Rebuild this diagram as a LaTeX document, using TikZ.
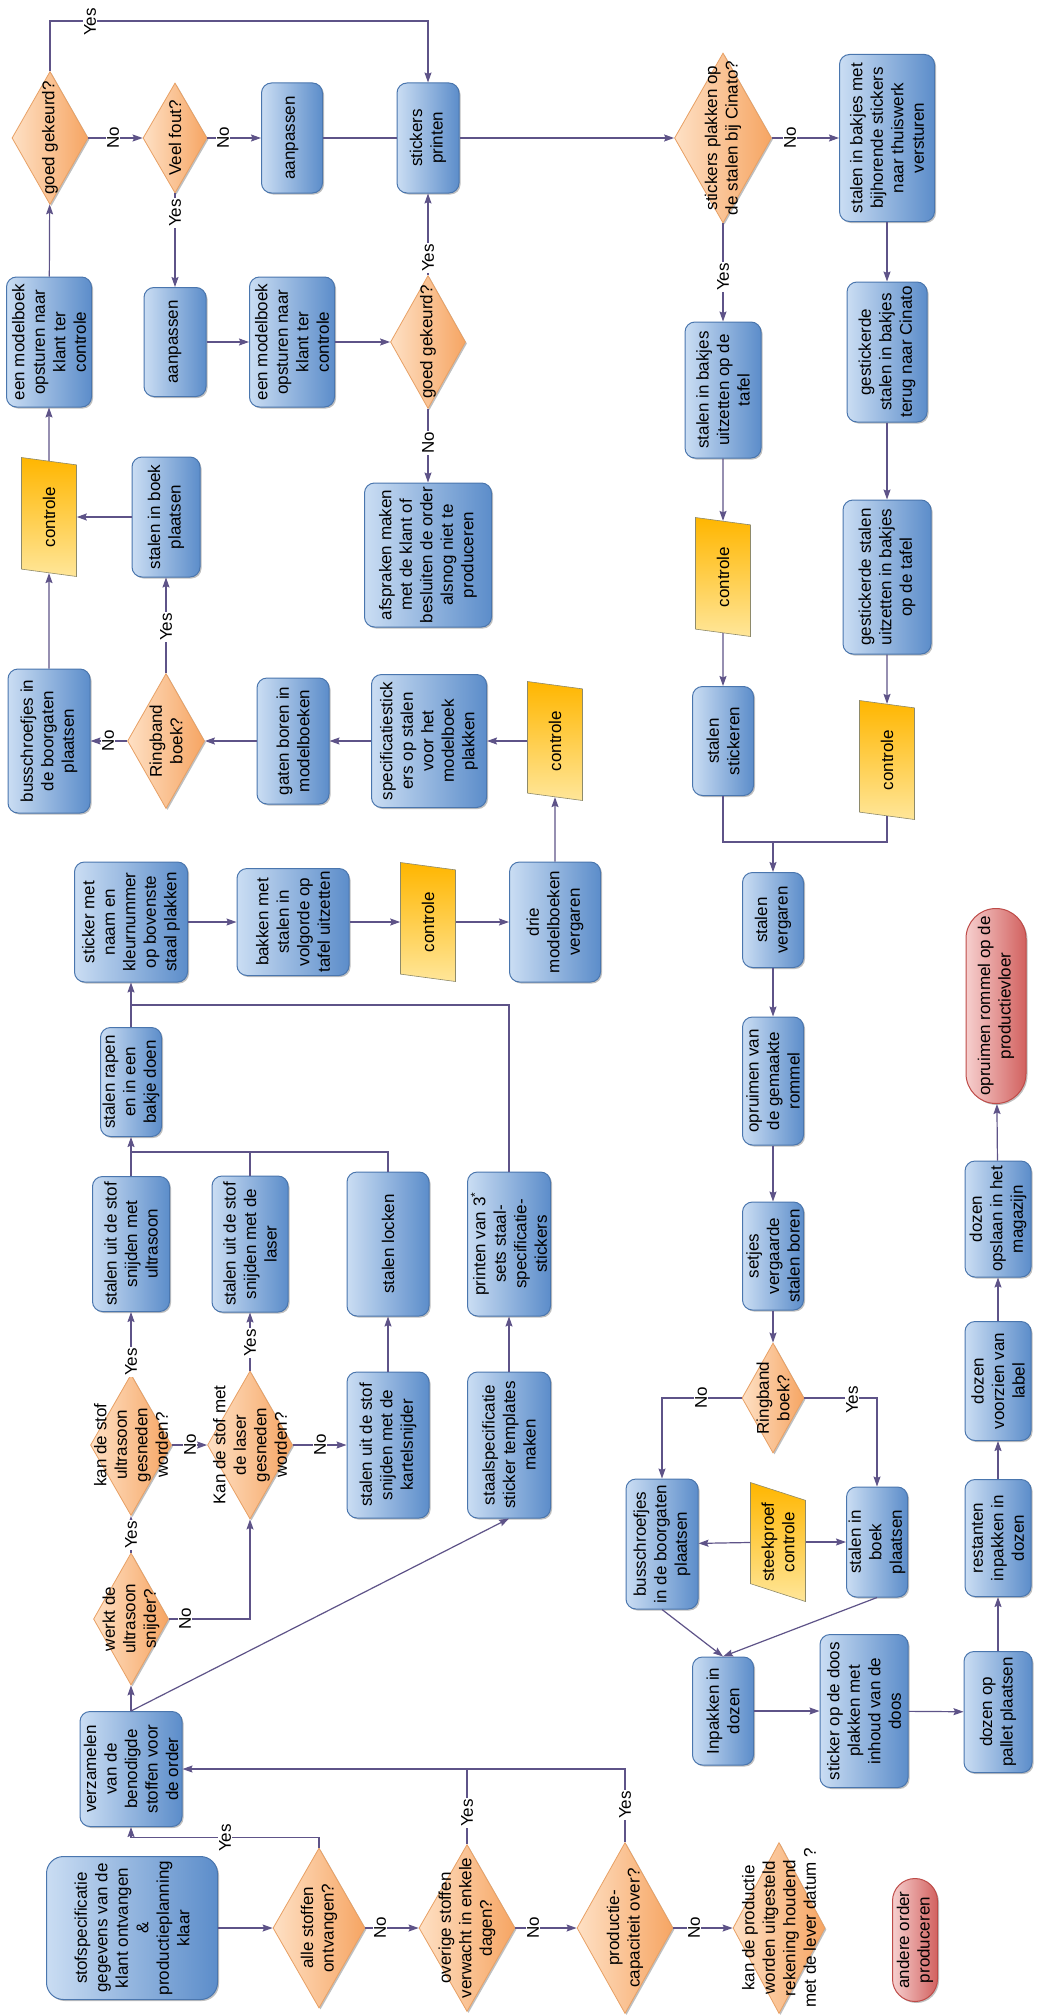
\documentclass[tikz,border=0pt]{standalone}
\usepackage{fontspec}
\setmainfont{Liberation Sans}
\usetikzlibrary{shapes.geometric,shapes.misc,arrows.meta,shadows}
\definecolor{boxlight}{HTML}{CADDF3}
\definecolor{boxmid}{HTML}{7CA5D9}
\definecolor{boxdark}{HTML}{5C8DCA}
\definecolor{boxborder}{HTML}{4A76AE}
\definecolor{declight}{HTML}{FEE0C4}
\definecolor{decdark}{HTML}{F6A563}
\definecolor{decborder}{HTML}{E8A064}
\definecolor{ctllight}{HTML}{FFE699}
\definecolor{ctldark}{HTML}{FFB600}
\definecolor{ctlborder}{HTML}{8E8A6A}
\definecolor{termlight}{HTML}{F6CFCE}
\definecolor{termdark}{HTML}{D2615F}
\definecolor{termborder}{HTML}{BE4B48}
\definecolor{linec}{HTML}{5E5388}
\tikzset{
  nbase/.style={rotate=90, align=center, inner sep=1pt, font=\fontsize{17pt}{20.5pt}\selectfont},
  shad/.style={drop shadow={shadow xshift=1.5pt, shadow yshift=-1.5pt, opacity=0.25, fill=black}},
  procbox/.style={nbase, shad, rectangle, rounded corners=10pt, draw=boxborder, line width=1pt, left color=boxlight, middle color=boxmid, right color=boxdark},
  decbox/.style={nbase, shad, diamond, inner sep=0pt, draw=decborder, line width=0.8pt, left color=declight, right color=decdark},
  ctlbox/.style={nbase, trapezium, trapezium left angle=63, trapezium right angle=117, trapezium stretches body, minimum width=119pt, minimum height=55pt, draw=ctlborder, line width=0.6pt, top color=ctldark, bottom color=ctllight},
  termbox/.style={nbase, shad, rounded rectangle, draw=termborder, line width=1pt, left color=termlight, right color=termdark},
  txt/.style={nbase},
  lab/.style={nbase, fill=white, inner sep=1.5pt},
  conn/.style={draw=linec, line width=1.2pt},
  arr/.style={conn, -{Stealth[length=10pt, width=7pt, inset=1.5pt]}},
}
\newcommand\proc[7][]{\node[procbox, minimum width=#5pt, minimum height=#6pt, #1] (#2) at (#3,#4) {#7};}
\newcommand\term[6]{\node[termbox, minimum width=#4pt, minimum height=#5pt] (#1) at (#2,#3) {#6};}
\newcommand\dec[6]{\node[decbox, minimum width=#4pt, minimum height=#5pt] (#1) at (#2,#3) {};
  \node[txt] (#1t) at (#1.center) {#6};}
\newcommand\ctl[4]{\node[ctlbox] (#1) at (#2,#3) {#4};}
\begin{document}
\begin{tikzpicture}[x=1pt,y=-1pt]
\fill[white] (0,0) rectangle (1037,2015);
\useasboundingbox (0,0) rectangle (1037,2015);

% process boxes
\proc[rounded corners=17pt]{start}{132}{1928}{143}{171}{stofspecificatie\\gegevens van de\\klant ontvangen\\\&\\productieplanning\\klaar}
\proc{verz}{131}{1769}{115}{102}{verzamelen\\van de\\benodigde\\stoffen voor\\de order}
\proc{ultra}{131}{1244}{135}{77}{stalen uit de stof\\snijden met\\ultrasoon}
\proc{laser}{250}{1244}{136}{76}{stalen uit de stof\\snijden met de\\laser}
\proc{rapen}{131}{1082}{109}{61}{stalen rapen\\en in een\\bakje doen}
\proc{locken}{388}{1244}{144}{82}{stalen locken}
\proc{kartel}{388}{1445}{146}{82}{stalen uit de stof\\snijden met de\\kartelsnijder}
\proc{printst}{509}{1244}{144}{83}{printen van 3\textsuperscript{*}\\sets staal-\\specificatie-\\stickers}
\proc{templ}{509}{1445}{146}{83}{staalspecificatie\\sticker templates\\maken}
\proc{naam}{131}{922}{120}{113}{sticker met\\naam en\\kleurnummer\\op bovenste\\staal plakken}
\proc{bakken}{293}{922}{107}{112}{bakken met\\stalen in\\volgorde op\\tafel uitzetten}
\proc{drie}{555}{922}{120}{91}{drie\\modelboeken\\vergaren}
\proc{spec}{429}{741}{133}{115}{specificatiestick\\ers op stalen\\voor het\\modelboek\\plakken}
\proc{gaten}{293}{741}{126}{72}{gaten boren in\\modelboeken}
\proc{bus1}{49}{741}{144}{82}{busschroefjes in\\de boorgaten\\plaatsen}
\proc{boek1}{166}{517}{120}{68}{stalen in boek\\plaatsen}
\proc{mb1}{49}{342}{130}{85}{een modelboek\\opsturen naar\\klant ter\\controle}
\proc{aanp2}{175}{342}{109}{62}{aanpassen}
\proc{mb2}{292}{342}{130}{85}{een modelboek\\opsturen naar\\klant ter\\controle}
\proc{aanp1}{292}{138}{110}{61}{aanpassen}
\proc{print}{428}{138}{110}{62}{stickers\\printen}
\proc{afspr}{428}{555}{144}{127}{afspraken maken\\met de klant of\\besluiten de order\\alsnog niet te\\produceren}
\proc{thuis}{887}{138}{167}{95}{stalen in bakjes met\\bijhorende stickers\\naar thuiswerk\\versturen}
\proc{uitz}{723}{390}{136}{76}{stalen in bakjes\\uitzetten op de\\tafel}
\proc{terug}{887}{352}{140}{80}{gestickerde\\stalen in bakjes\\terug naar Cinato}
\proc{gstuitz}{887}{577}{154}{88}{gestickerde stalen\\uitzetten in bakjes\\op de tafel}
\proc{stick}{723}{741}{109}{61}{stalen\\stickeren}
\proc{verg}{773}{920}{95}{61}{stalen\\vergaren}
\proc{oprv}{773}{1081}{128}{61}{opruimen van\\de gemaakte\\rommel}
\proc{setjes}{773}{1256}{108}{61}{setjes\\vergaarde\\stalen boren}
\proc{bus2}{662}{1544}{130}{72}{busschroefjes\\in de boorgaten\\plaatsen}
\proc{boek2}{877}{1542}{110}{61}{stalen in\\boek\\plaatsen}
\proc{inpak}{723}{1711}{108}{61}{Inpakken in\\dozen}
\proc{stdoos}{864}{1711}{153}{88}{sticker op de doos\\plakken met\\inhoud van de\\doos}
\proc{pallet}{998}{1712}{121}{68}{dozen op\\pallet plaatsen}
\proc{rest}{998}{1538}{117}{66}{restanten\\inpakken in\\dozen}
\proc{labl}{998}{1381}{119}{66}{dozen\\voorzien van\\label}
\proc{magaz}{998}{1219}{116}{66}{dozen\\opslaan in het\\magazijn}

% terminals
\term{oprt}{996}{1006}{197}{60}{opruimen rommel op de\\productievloer}
\term{andere}{915}{1940}{125}{45}{andere order\\produceren}

% decisions
\dec{goed1}{50}{138}{133}{76}{goed gekeurd?}
\dec{veel}{175}{138}{110}{64}{Veel fout?}
\dec{goed2}{428}{342}{133}{75}{goed gekeurd?}
\dec{cin}{723}{138}{170}{97}{stickers plakken op\\de stalen bij Cinato?}
\dec{rb1}{166}{741}{135}{77}{Ringband\\boek?}
\dec{rb2}{773}{1398}{110}{62}{Ringband\\boek?}
\dec{werkt}{131}{1619}{132}{75}{werkt de\\ultrasoon\\snijder?}
\dec{kus}{131}{1445}{141}{81}{kan de stof\\ultrasoon\\gesneden\\worden?}
\dec{klas}{250}{1445}{148}{85}{Kan de stof met\\de laser\\gesneden\\worden?}
\dec{alle}{319}{1928}{160}{92}{alle stoffen\\ontvangen?}
\dec{over}{467}{1928}{167}{96}{overige stoffen\\verwacht in enkele\\dagen?}
\dec{prod}{625}{1928}{171}{96}{productie-\\capaciteit over?}
\dec{kanprod}{779}{1928}{171}{92}{kan de productie\\worden uitgesteld\\rekening houdend\\met de lever datum ?}

% controle
\ctl{ctlA}{49}{517}{controle}
\ctl{ctlB}{428}{922}{controle}
\ctl{ctlC}{555}{741}{controle}
\ctl{ctlD}{723}{577}{controle}
\ctl{ctlE}{887}{760}{controle}
\ctl{steek}{778}{1542}{steekproef\\controle}

% connectors
\draw[arr] (start) -- (alle);
\draw[arr] (alle.east) -- ++(0,-10) -| (verz);
\draw[arr] (alle) -- (over);
\draw[arr] (over) -- (prod);
\draw[arr] (prod) -- (kanprod);
\draw[arr] (prod.east) |- (verz);
\draw[conn] (over.east) -- (over.east |- verz);
\draw[arr] (verz) -- (werkt);
\draw[arr] (verz.east) -- (templ.west);
\draw[arr] (werkt) -- (kus);
\draw[arr] (werkt.south) -| (klas);
\draw[arr] (kus) -- (klas);
\draw[arr] (kus) -- (ultra);
\draw[arr] (klas) -- (laser);
\draw[arr] (klas) -- (kartel);
\draw[arr] (kartel) -- (locken);
\draw[arr] (templ) -- (printst);
\draw[arr] (ultra) -- (rapen);
\coordinate (j1) at (131,1152);
\draw[conn] (laser) |- (j1);
\draw[conn] (locken) |- (j1);
\coordinate (j2) at (131,1005);
\draw[conn] (rapen) -- (j2);
\draw[arr] (printst) |- (j2) -- (naam);
\draw[arr] (naam) -- (bakken);
\draw[arr] (bakken) -- (ctlB);
\draw[arr] (ctlB) -- (drie);
\draw[arr] (drie) -- (ctlC);
\draw[arr] (ctlC) -- (spec);
\draw[arr] (spec) -- (gaten);
\draw[arr] (gaten) -- (rb1);
\draw[arr] (rb1) -- (bus1);
\draw[arr] (rb1) -- (boek1);
\draw[arr] (bus1) -- (ctlA);
\draw[arr] (boek1) -- (ctlA);
\draw[arr] (ctlA) -- (mb1);
\draw[arr] (mb1) -- (goed1);
\draw[arr] (goed1.east) -- ++(0,-50) -| (print);
\draw[arr] (goed1) -- (veel);
\draw[arr] (veel) -- (aanp1);
\draw[conn] (aanp1) -- (print);
\draw[arr] (veel) -- (aanp2);
\draw[arr] (aanp2) -- (mb2);
\draw[arr] (mb2) -- (goed2);
\draw[arr] (goed2) -- (print);
\draw[arr] (goed2) -- (afspr);
\draw[arr] (print) -- (cin);
\draw[arr] (cin) -- (thuis);
\draw[arr] (cin) -- (uitz);
\draw[arr] (thuis) -- (terug);
\draw[arr] (terug) -- (gstuitz);
\draw[arr] (gstuitz) -- (ctlE);
\draw[arr] (uitz) -- (ctlD);
\draw[arr] (ctlD) -- (stick);
\coordinate (j4) at (773,842);
\draw[conn] (stick) |- (j4);
\draw[conn] (ctlE) |- (j4);
\draw[arr] (j4) -- (verg);
\draw[arr] (verg) -- (oprv);
\draw[arr] (oprv) -- (setjes);
\draw[arr] (setjes) -- (rb2);
\draw[arr] (rb2.north) -| (bus2);
\draw[arr] (rb2.south) -| (boek2);
\draw[arr] (steek) -- (bus2);
\draw[arr] (steek) -- (boek2);
\draw[arr] (bus2.west) -- (inpak.east);
\draw[arr] (boek2.west) -- (inpak.east);
\draw[arr] (inpak) -- (stdoos);
\draw[arr] (stdoos) -- (pallet);
\draw[arr] (pallet) -- (rest);
\draw[arr] (rest) -- (labl);
\draw[arr] (labl) -- (magaz);
\draw[arr] (magaz) -- (oprt);

% labels
\node[lab] (l1) at (90,22) {Yes};
\node[lab] (l2) at (113,138) {No};
\node[lab] (l3) at (223,138) {No};
\node[lab] (l4) at (175,213) {Yes};
\node[lab] (l5) at (428,258) {Yes};
\node[lab] (l6) at (428,443) {No};
\node[lab] (l7) at (790,138) {No};
\node[lab] (l8) at (723,277) {Yes};
\node[lab] (l9) at (166,627) {Yes};
\node[lab] (l10) at (108,741) {No};
\node[lab] (l11) at (701,1398) {No};
\node[lab] (l12) at (852,1400) {Yes};
\node[lab] (l13) at (131,1362) {Yes};
\node[lab] (l14) at (250,1343) {Yes};
\node[lab] (l15) at (190,1445) {No};
\node[lab] (l16) at (320,1445) {No};
\node[lab] (l17) at (131,1535) {Yes};
\node[lab] (l18) at (185,1619) {No};
\node[lab] (l19) at (225,1838) {Yes};
\node[lab] (l20) at (380,1928) {No};
\node[lab] (l21) at (467,1813) {Yes};
\node[lab] (l22) at (533,1928) {No};
\node[lab] (l23) at (625,1805) {Yes};
\node[lab] (l24) at (694,1928) {No};
\end{tikzpicture}
\end{document}
